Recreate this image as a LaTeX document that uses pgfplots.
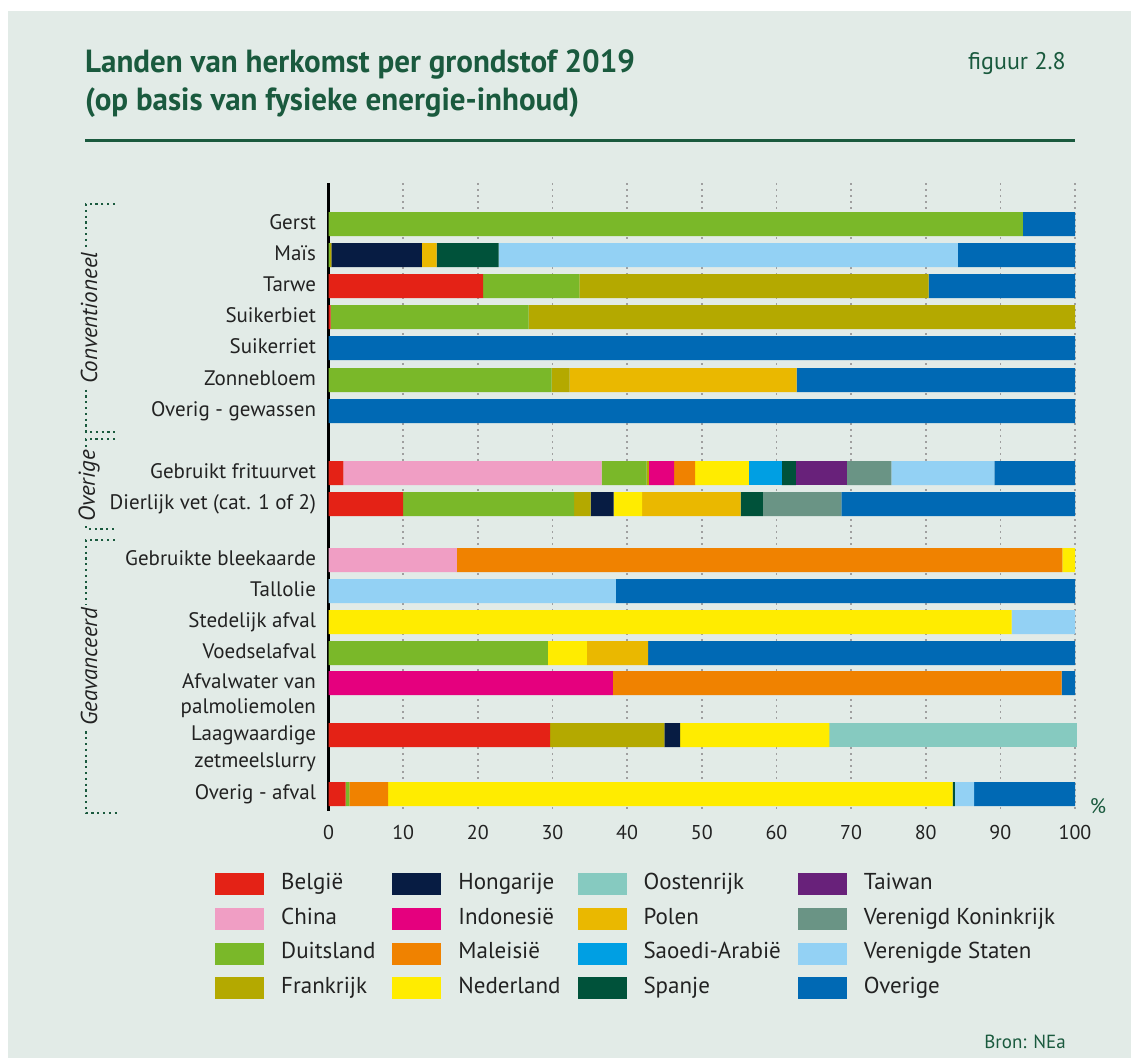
\documentclass[border=0pt]{standalone}
\usepackage{pgfplots}
\pgfplotsset{compat=1.18}
\usepackage{pgfplotstable}
\usepackage{fontspec}
\setmainfont{PT Sans}
\newfontfamily\titlefont{PT Sans}[FakeStretch=0.97]
\definecolor{bg}{HTML}{E2EBE7}
\definecolor{dgreen}{HTML}{1A5A3E}
\definecolor{txt}{HTML}{222222}
\definecolor{cBE}{HTML}{E42216}
\definecolor{cCN}{HTML}{F09EC4}
\definecolor{cDE}{HTML}{7AB829}
\definecolor{cFR}{HTML}{B4A900}
\definecolor{cHU}{HTML}{071C43}
\definecolor{cID}{HTML}{E5007E}
\definecolor{cMY}{HTML}{F08200}
\definecolor{cNL}{HTML}{FFEC00}
\definecolor{cAT}{HTML}{86CAC0}
\definecolor{cPL}{HTML}{EAB800}
\definecolor{cSA}{HTML}{009FE3}
\definecolor{cES}{HTML}{00523A}
\definecolor{cTW}{HTML}{68217A}
\definecolor{cUK}{HTML}{6A9485}
\definecolor{cUS}{HTML}{93D1F4}
\definecolor{cOV}{HTML}{0069B4}

\pgfplotstableread{
y BE CN DE FR HU ID MY NL AT PL SA ES TW UK US OV
224 0 0 93.0 0 0 0 0 0 0 0 0 0 0 0 0 7.0
255 0 0 0.2 0.2 12.1 0 0 0 0 2.0 0 8.3 0 0 61.5 15.7
286 20.7 0 12.9 46.8 0 0 0 0 0 0 0 0 0 0 0 19.6
317 0.3 0 26.5 73.2 0 0 0 0 0 0 0 0 0 0 0 0
348 0 0 0 0 0 0 0 0 0 0 0 0 0 0 0 100
380 0 0 29.9 2.4 0 0 0 0 0 30.4 0 0 0 0 0 37.3
411 0 0 0 0 0 0 0 0 0 0 0 0 0 0 0 100
473 2.0 34.6 6.0 0.3 0 3.4 2.8 7.2 0 0 4.4 1.9 6.8 6.0 13.8 10.8
504 10.0 0 22.9 2.2 3.1 0 0 3.8 0 13.2 0 3.0 0 10.5 0 31.3
560 0 17.2 0 0 0 0 81.1 1.7 0 0 0 0 0 0 0 0
591 0 0 0 0 0 0 0 0 0 0 0 0 0 0 38.5 61.5
622 0 0 0 0 0 0 0 91.5 0 0 0 0 0 0 8.5 0
653 0 0 29.4 0 0 0 0 5.2 0 8.2 0 0 0 0 0 57.2
683 0 0 0 0 0 38.1 60.1 0 0 0 0 0 0 0 0 1.8
735 29.7 0 0 15.3 2.1 0 0 20.0 33.2 0 0 0 0 0 0 0
794 2.3 0 0.5 0 0 0 5.2 75.6 0 0 0 0.3 0 0 2.6 13.5
}\data

\pgfplotsset{sw/.style={draw=none,
  legend image code/.code={\path[##1,draw=none] (0pt,-11pt) rectangle (49pt,11pt);}}}

\begin{document}
\begin{tikzpicture}
\begin{scope}[x=1pt,y=-1pt]
\fill[white] (0,0) rectangle (1131,1058);
\fill[bg] (8,11) rectangle (1131,1058);
\node[anchor=base west, inner sep=0, text=dgreen, font=\titlefont\bfseries\fontsize{32}{36}\selectfont] at (85,72.7) {Landen van herkomst per grondstof 2019};
\node[anchor=base west, inner sep=0, text=dgreen, font=\titlefont\bfseries\fontsize{32}{36}\selectfont] at (85,110.5) {(op basis van fysieke energie-inhoud)};
\node[anchor=base east, inner sep=0, text=dgreen, font=\fontsize{24}{28}\selectfont] at (1066,69) {figuur 2.8};
\draw[dgreen, line width=3pt] (85,140.5) -- (1075,140.5);
\node[text=dgreen, font=\fontsize{21}{24}\selectfont] at (1098,806) {\%};
\node[anchor=base east, inner sep=0, text=dgreen, font=\fontsize{19}{22}\selectfont] at (1066,1048) {Bron: NEa};
\end{scope}

\begin{axis}[
  at={(328.5pt,-811pt)}, anchor=south west,
  scale only axis, width=746.5pt, height=628pt,
  xmin=0, xmax=100, ymin=183, ymax=811, y dir=reverse,
  xbar stacked, bar width=24,
  clip=false,
  separate axis lines,
  axis x line*=bottom, axis y line*=left,
  x axis line style={draw=none},
  y axis line style={draw=black, line width=3pt},
  major tick length=0pt,
  xtick={0,10,...,100},
  xmajorgrids,
  grid style={color=gray!75, line width=1.7pt, dash pattern=on 1.7pt off 4.3pt},
  xticklabel style={font=\fontsize{20}{24}\selectfont, text=txt, yshift=-11pt},
  /pgf/number format/assume math mode=true,
  ytick={224,255,286,317,348,380,411,473,504,560,591,622,653,683,708,735,762,794},
  yticklabels={Gerst,Maïs,Tarwe,Suikerbiet,Suikerriet,Zonnebloem,Overig - gewassen,Gebruikt frituurvet,Dierlijk vet (cat. 1 of 2),Gebruikte bleekaarde,Tallolie,Stedelijk afval,Voedselafval,Afvalwater van,palmoliemolen,Laagwaardige,zetmeelslurry,Overig - afval},
  yticklabel style={font=\fontsize{21}{24}\selectfont, text=txt, text height=14pt, text depth=4pt, xshift=-9pt},
  legend columns=4, transpose legend, legend cell align=left,
  legend style={at={(-0.152,-0.099)}, anchor=north west, draw=none, fill=none, inner sep=0pt,
    column sep=17pt, row sep=12.6pt,
    font=\fontsize{23}{27}\selectfont, text=txt,
    nodes={inner sep=0pt, text height=16pt, text depth=6pt}},
]
\addplot[fill=cBE, sw] table[x=BE, y=y] {\data};
\addplot[fill=cCN, sw] table[x=CN, y=y] {\data};
\addplot[fill=cDE, sw] table[x=DE, y=y] {\data};
\addplot[fill=cFR, sw] table[x=FR, y=y] {\data};
\addplot[fill=cHU, sw] table[x=HU, y=y] {\data};
\addplot[fill=cID, sw] table[x=ID, y=y] {\data};
\addplot[fill=cMY, sw] table[x=MY, y=y] {\data};
\addplot[fill=cNL, sw] table[x=NL, y=y] {\data};
\addplot[fill=cAT, sw] table[x=AT, y=y] {\data};
\addplot[fill=cPL, sw] table[x=PL, y=y] {\data};
\addplot[fill=cSA, sw] table[x=SA, y=y] {\data};
\addplot[fill=cES, sw] table[x=ES, y=y] {\data};
\addplot[fill=cTW, sw] table[x=TW, y=y] {\data};
\addplot[fill=cUK, sw] table[x=UK, y=y] {\data};
\addplot[fill=cUS, sw] table[x=US, y=y] {\data};
\addplot[fill=cOV, sw] table[x=OV, y=y] {\data};
\legend{België,China,Duitsland,Frankrijk,Hongarije,Indonesië,Maleisië,Nederland,Oostenrijk,Polen,Saoedi-Arabië,Spanje,Taiwan,Verenigd Koninkrijk,Verenigde Staten,Overige}
\end{axis}

\begin{scope}[x=1pt,y=-1pt]
\tikzset{brk/.style={dgreen, line width=2.2pt, dash pattern=on 2.2pt off 3.6pt}}
\draw[brk] (115,204) -- (86,204) -- (86,432) -- (117,432);
\draw[brk] (115,439) -- (86,439) -- (86,529) -- (117,529);
\draw[brk] (115,540) -- (86,540) -- (86,813) -- (117,813);
\tikzset{glab/.style={rotate=90, fill=bg, inner sep=3pt, text=txt, font=\itshape\fontsize{23}{26}\selectfont}}
\node[glab] at (89,318) {Conventioneel};
\node[glab] at (89,486) {Overige};
\node[glab] at (89,667) {Geavanceerd};
\end{scope}
\end{tikzpicture}
\end{document}
